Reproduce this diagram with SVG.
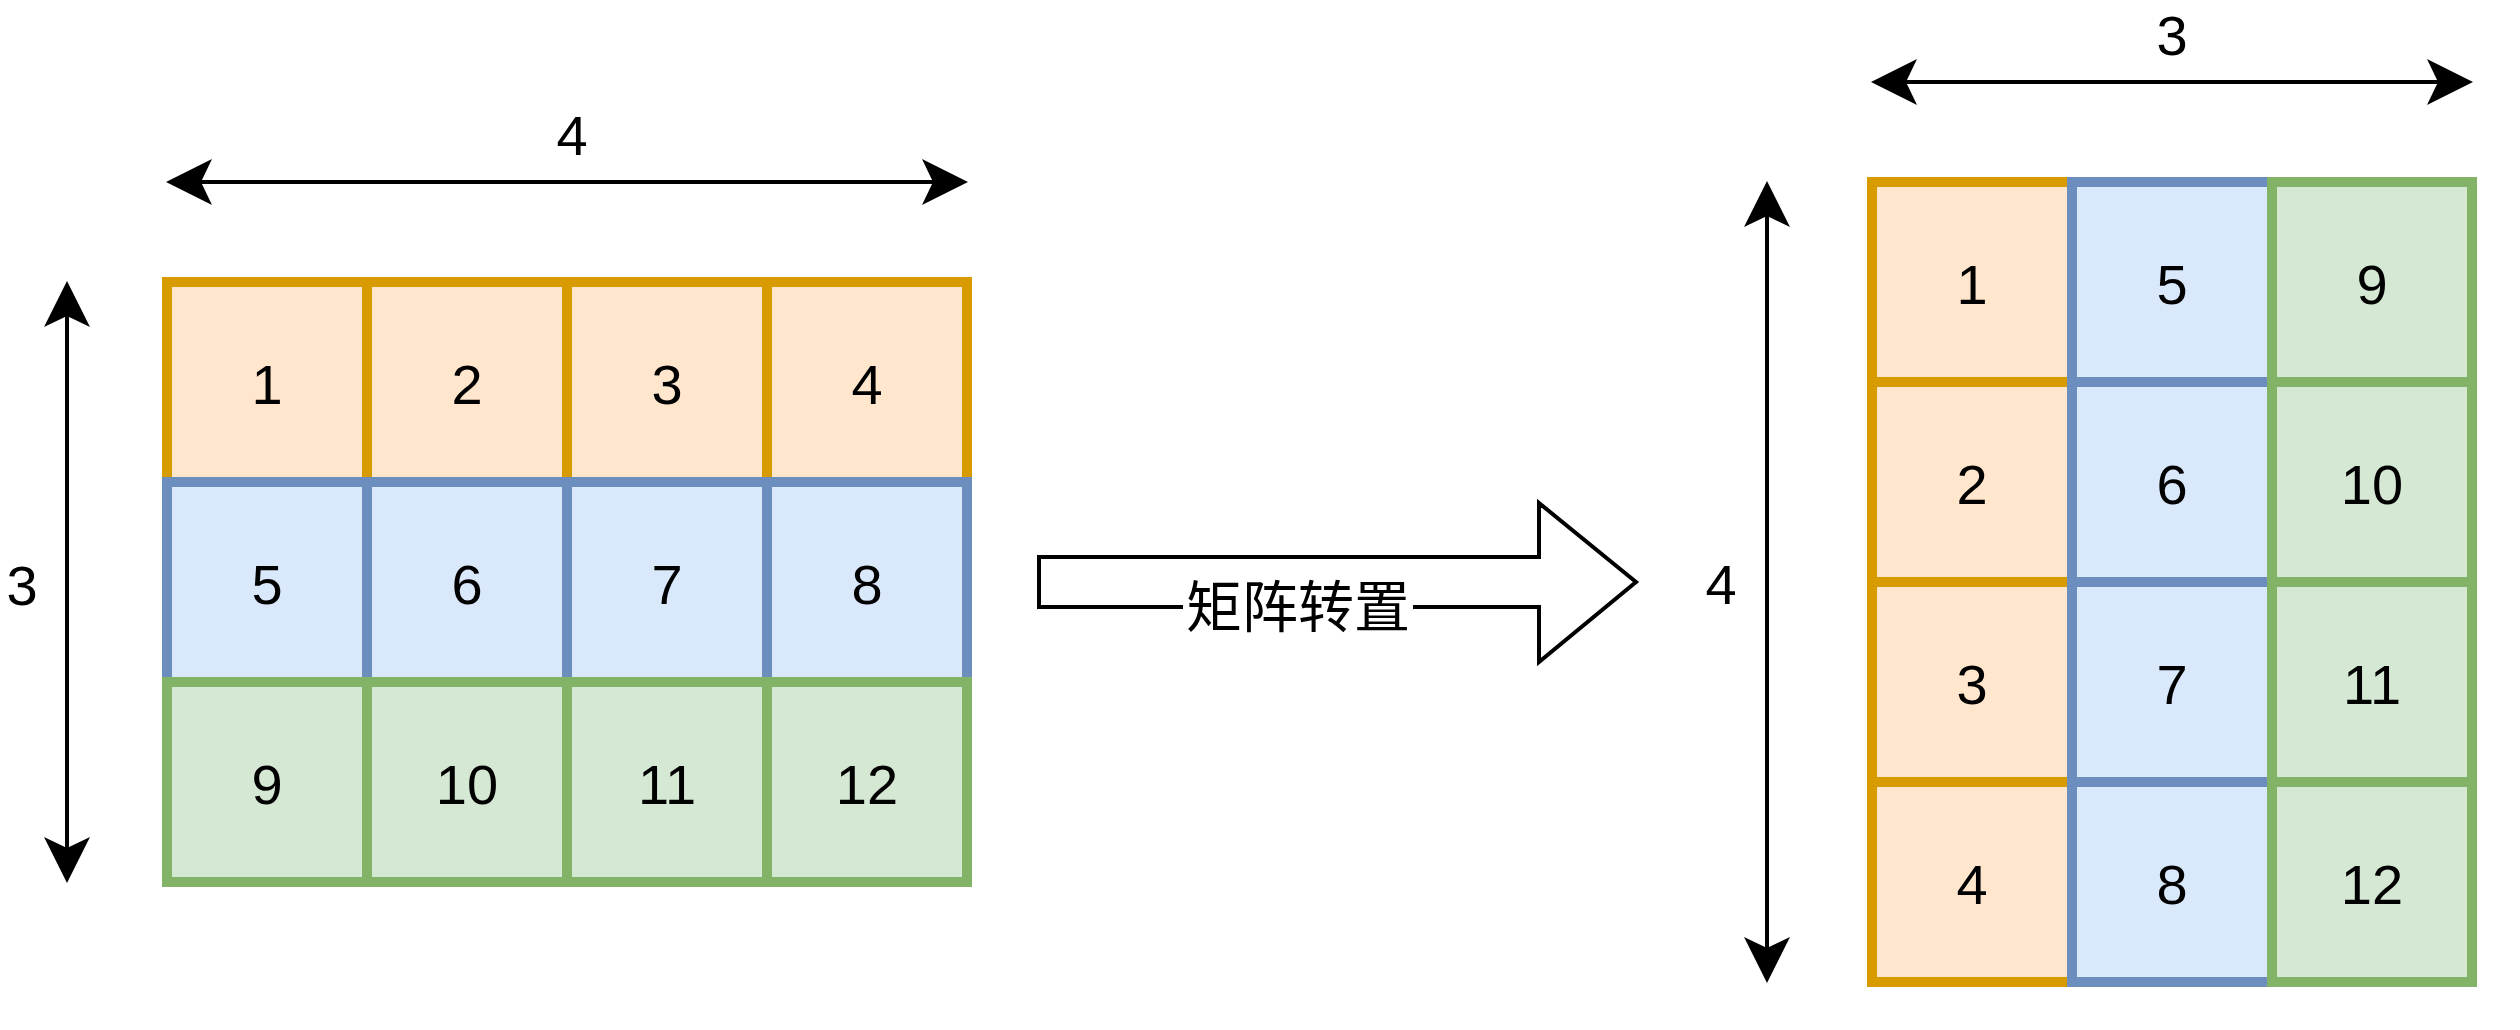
<svg xmlns="http://www.w3.org/2000/svg" width="2520" height="1030" viewBox="0 0 2520 1030">
  <style>
    .o { fill: #ffe6cc; stroke: #d79b00; stroke-width: 10; }
    .b { fill: #dae8fc; stroke: #6c8ebf; stroke-width: 10; }
    .g { fill: #d5e8d4; stroke: #82b366; stroke-width: 10; }
    .t { font-family: "Liberation Sans", Arial, "Noto Sans CJK SC", sans-serif; font-size: 56px; fill: #000; text-anchor: middle; }
    .ln { stroke: #000; stroke-width: 4; fill: none; marker-start: url(#ah); marker-end: url(#ah); }
  </style>
  <defs>
    <marker id="ah" markerUnits="userSpaceOnUse" markerWidth="48" markerHeight="50" viewBox="0 -25 48 50" refX="11" refY="0" orient="auto-start-reverse">
      <path d="M46,0 L0,-23 L11,0 L0,23 Z" fill="#000"/>
    </marker>
  </defs>
  <rect width="2520" height="1030" fill="#fff"/>

  <g id="connectors">
    <line class="ln" x1="201" y1="182" x2="933" y2="182"/>
    <line class="ln" x1="67" y1="316" x2="67" y2="848"/>
    <line class="ln" x1="1906" y1="82" x2="2438" y2="82"/>
    <line class="ln" x1="1767" y1="216" x2="1767" y2="948"/>
  </g>

  <g id="dim-labels">
    <text class="t" x="572" y="155">4</text>
    <text class="t" x="22" y="605">3</text>
    <text class="t" x="2172" y="55">3</text>
    <text class="t" x="1721" y="604">4</text>
  </g>

  <g id="left-matrix">
    <g id="l1"><rect class="o" x="167" y="282" width="200" height="200"/><text class="t" x="267" y="404">1</text></g>
    <g id="l2"><rect class="o" x="367" y="282" width="200" height="200"/><text class="t" x="467" y="404">2</text></g>
    <g id="l3"><rect class="o" x="567" y="282" width="200" height="200"/><text class="t" x="667" y="404">3</text></g>
    <g id="l4"><rect class="o" x="767" y="282" width="200" height="200"/><text class="t" x="867" y="404">4</text></g>
    <g id="l5"><rect class="b" x="167" y="482" width="200" height="200"/><text class="t" x="267" y="604">5</text></g>
    <g id="l6"><rect class="b" x="367" y="482" width="200" height="200"/><text class="t" x="467" y="604">6</text></g>
    <g id="l7"><rect class="b" x="567" y="482" width="200" height="200"/><text class="t" x="667" y="604">7</text></g>
    <g id="l8"><rect class="b" x="767" y="482" width="200" height="200"/><text class="t" x="867" y="604">8</text></g>
    <g id="l9"><rect class="g" x="167" y="682" width="200" height="200"/><text class="t" x="267" y="804">9</text></g>
    <g id="l10"><rect class="g" x="367" y="682" width="200" height="200"/><text class="t" x="467" y="804">10</text></g>
    <g id="l11"><rect class="g" x="567" y="682" width="200" height="200"/><text class="t" x="667" y="804">11</text></g>
    <g id="l12"><rect class="g" x="767" y="682" width="200" height="200"/><text class="t" x="867" y="804">12</text></g>
  </g>

  <g id="transpose-arrow">
    <polygon points="1039,557 1539,557 1539,503 1636,582 1539,662 1539,607 1039,607" fill="#fff" stroke="#000" stroke-width="4"/>
    <rect x="1183" y="580" width="230" height="54" fill="#fff"/>
    <text class="t" x="1298" y="627">矩阵转置</text>
  </g>

  <g id="right-matrix">
    <g id="r1"><rect class="o" x="1872" y="182" width="200" height="200"/><text class="t" x="1972" y="304">1</text></g>
    <g id="r2"><rect class="o" x="1872" y="382" width="200" height="200"/><text class="t" x="1972" y="504">2</text></g>
    <g id="r3"><rect class="o" x="1872" y="582" width="200" height="200"/><text class="t" x="1972" y="704">3</text></g>
    <g id="r4"><rect class="o" x="1872" y="782" width="200" height="200"/><text class="t" x="1972" y="904">4</text></g>
    <g id="r5"><rect class="b" x="2072" y="182" width="200" height="200"/><text class="t" x="2172" y="304">5</text></g>
    <g id="r6"><rect class="b" x="2072" y="382" width="200" height="200"/><text class="t" x="2172" y="504">6</text></g>
    <g id="r7"><rect class="b" x="2072" y="582" width="200" height="200"/><text class="t" x="2172" y="704">7</text></g>
    <g id="r8"><rect class="b" x="2072" y="782" width="200" height="200"/><text class="t" x="2172" y="904">8</text></g>
    <g id="r9"><rect class="g" x="2272" y="182" width="200" height="200"/><text class="t" x="2372" y="304">9</text></g>
    <g id="r10"><rect class="g" x="2272" y="382" width="200" height="200"/><text class="t" x="2372" y="504">10</text></g>
    <g id="r11"><rect class="g" x="2272" y="582" width="200" height="200"/><text class="t" x="2372" y="704">11</text></g>
    <g id="r12"><rect class="g" x="2272" y="782" width="200" height="200"/><text class="t" x="2372" y="904">12</text></g>
  </g>
</svg>
